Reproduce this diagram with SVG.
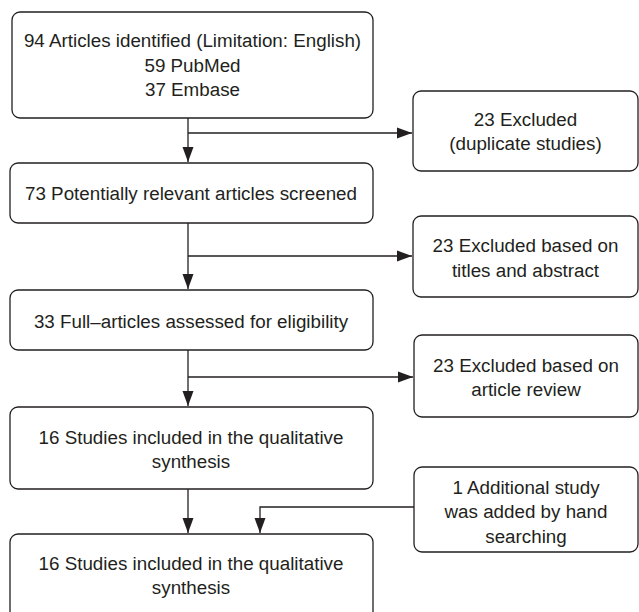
<svg xmlns="http://www.w3.org/2000/svg" width="639" height="612" viewBox="0 0 639 612">
<style>
.box{fill:#fff;stroke:#231f20;stroke-width:1.3}
.t{font-family:"Liberation Sans",Arial,sans-serif;font-size:18.8px;fill:#231f20;text-anchor:middle}
.c{fill:none;stroke:#231f20;stroke-width:1.3}
</style>
<defs>
<marker id="ah" markerUnits="userSpaceOnUse" markerWidth="16" markerHeight="12" viewBox="0 0 16 12" refX="15" refY="6" orient="auto">
<path d="M0,0.5 L15,6 L0,11.5 Z" fill="#231f20"/>
</marker>
</defs>
<rect width="639" height="612" fill="#fff"/>
<g id="connectors">
<path class="c" d="M188,118 V162" marker-end="url(#ah)"/>
<path class="c" d="M188,133 H412" marker-end="url(#ah)"/>
<path class="c" d="M188,223 V289" marker-end="url(#ah)"/>
<path class="c" d="M188,256 H412" marker-end="url(#ah)"/>
<path class="c" d="M188,350 V406" marker-end="url(#ah)"/>
<path class="c" d="M188,377 H413" marker-end="url(#ah)"/>
<path class="c" d="M188,489 V533" marker-end="url(#ah)"/>
<path class="c" d="M414,507 H260 V533" marker-end="url(#ah)"/>
</g>
<g id="n1">
<rect class="box" x="12" y="12" width="361" height="106" rx="8"/>
<text class="t" x="192.5" y="47">94 Articles identified (Limitation: English)</text>
<text class="t" x="192.5" y="72">59 PubMed</text>
<text class="t" x="192.5" y="96">37 Embase</text>
</g>
<g id="x1">
<rect class="box" x="413" y="91" width="225" height="80" rx="8"/>
<text class="t" x="525.5" y="125.5">23 Excluded</text>
<text class="t" x="525.5" y="149.5">(duplicate studies)</text>
</g>
<g id="n2">
<rect class="box" x="10" y="163" width="363" height="60" rx="8"/>
<text class="t" x="191" y="199.5">73 Potentially relevant articles screened</text>
</g>
<g id="x2">
<rect class="box" x="413" y="216" width="225" height="81" rx="8"/>
<text class="t" x="525.5" y="251.5">23 Excluded based on</text>
<text class="t" x="525.5" y="277">titles and abstract</text>
</g>
<g id="n3">
<rect class="box" x="10" y="290" width="363" height="60" rx="8"/>
<text class="t" x="191" y="327.5">33 Full–articles assessed for eligibility</text>
</g>
<g id="x3">
<rect class="box" x="414" y="335" width="224" height="82" rx="8"/>
<text class="t" x="526" y="371.5">23 Excluded based on</text>
<text class="t" x="526" y="396">article review</text>
</g>
<g id="n4">
<rect class="box" x="10" y="407" width="363" height="82" rx="8"/>
<text class="t" x="191" y="443.5">16 Studies included in the qualitative</text>
<text class="t" x="191" y="468">synthesis</text>
</g>
<g id="a1">
<rect class="box" x="414" y="467" width="224" height="85" rx="8"/>
<text class="t" x="526" y="493.5">1 Additional study</text>
<text class="t" x="526" y="518">was added by hand</text>
<text class="t" x="526" y="542.5">searching</text>
</g>
<g id="n5">
<rect class="box" x="10" y="534" width="363" height="90" rx="8"/>
<text class="t" x="191" y="569.5">16 Studies included in the qualitative</text>
<text class="t" x="191" y="594">synthesis</text>
</g>
</svg>
